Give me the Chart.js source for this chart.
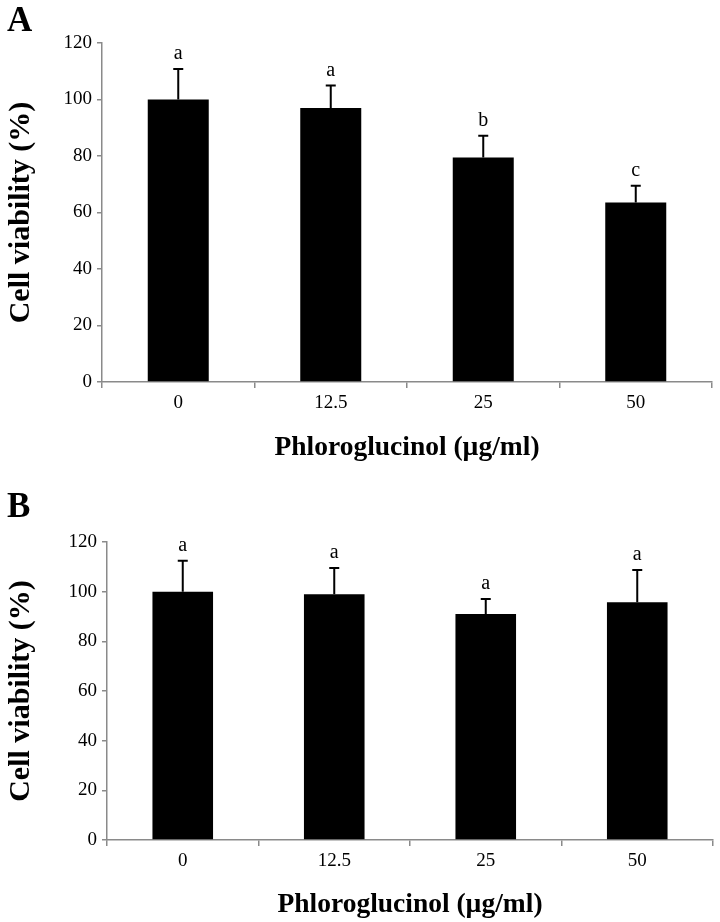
<!DOCTYPE html>
<html>
<head>
<meta charset="utf-8">
<script src="https://cdn.jsdelivr.net/npm/chart.js@4.4.0/dist/chart.umd.min.js"></script>
<style>
  html, body { margin: 0; padding: 0; background: #fff; }
  #wrap { position: relative; width: 720px; height: 922px; }
  .panel { position: absolute; left: 0; }
  .tag {
    position: absolute; left: 7px;
    font: bold 35px "Liberation Serif", "Times New Roman", serif;
    color: #000;
  }
</style>
</head>
<body>
<div id="wrap">
  <canvas id="chartA" class="panel" width="720" height="465" style="top:0"></canvas>
  <canvas id="chartB" class="panel" width="720" height="452" style="top:470px"></canvas>
  <div class="tag" style="top:0px">A</div>
  <div class="tag" style="top:486px">B</div>
</div>
<script>
"use strict";

// Doses (x categories)
const doses = ['0', '12.5', '25', '50'];

// Panel A
const viabilityA = [100, 97, 79.5, 63.5];
const errorA = [10.8, 8, 7.7, 6];
const lettersA = ['a', 'a', 'b', 'c'];

// Panel B
const viabilityB = [100, 99, 91, 95.7];
const errorB = [12.4, 10.5, 6, 13];
const lettersB = ['a', 'a', 'a', 'a'];

const SERIF = '"Liberation Serif", "Times New Roman", serif';
const AXIS_GREY = '#8a8a8a';

Chart.defaults.animation = false;
Chart.defaults.font.family = SERIF;
Chart.defaults.color = '#000';

// Upper error bars + significance letters
const errorBars = {
    id: 'errorBars',
    afterDatasetsDraw(chart, args, opts) {
        const ctx = chart.ctx;
        const y = chart.scales.y;
        const meta = chart.getDatasetMeta(0);
        const values = chart.data.datasets[0].data;
        ctx.save();
        ctx.strokeStyle = '#000';
        ctx.lineWidth = 2;
        ctx.fillStyle = '#000';
        ctx.font = '20px ' + SERIF;
        ctx.textAlign = 'center';
        ctx.textBaseline = 'bottom';
        meta.data.forEach((bar, i) => {
            const top = y.getPixelForValue(values[i] + opts.errors[i]);
            const base = y.getPixelForValue(values[i]);
            ctx.beginPath();
            ctx.moveTo(bar.x, base);
            ctx.lineTo(bar.x, top);
            ctx.moveTo(bar.x - 5, top);
            ctx.lineTo(bar.x + 5, top);
            ctx.stroke();
            ctx.fillText(opts.letters[i], bar.x, top - 5);
        });
        ctx.restore();
    }
};

function makePanel(id, values, errors, letters, sizes) {
    return new Chart(document.getElementById(id), {
        type: 'bar',
        data: {
            labels: doses,
            datasets: [{
                data: values,
                backgroundColor: '#000',
                borderWidth: 0,
                categoryPercentage: 1,
                barPercentage: 0.4
            }]
        },
        options: {
            responsive: false,
            layout: {
                padding: { left: 0, right: sizes.right, top: sizes.top, bottom: 0 }
            },
            plugins: {
                legend: { display: false },
                tooltip: { enabled: false },
                errorBars: { errors: errors, letters: letters }
            },
            scales: {
                x: {
                    afterFit: (scale) => { scale.height = sizes.xHeight; },
                    border: { color: AXIS_GREY, width: 1.5 },
                    grid: {
                        drawOnChartArea: false,
                        tickLength: 6,
                        color: AXIS_GREY,
                        lineWidth: 1.5
                    },
                    ticks: { font: { size: 19 }, padding: 4 },
                    title: {
                        display: true,
                        text: 'Phloroglucinol (µg/ml)',
                        font: { size: 27.5, weight: 'bold' },
                        padding: { top: 0, bottom: 1 }
                    }
                },
                y: {
                    min: 0,
                    max: 120,
                    afterFit: (scale) => { scale.width = sizes.left; },
                    border: { color: AXIS_GREY, width: 1.5 },
                    grid: {
                        drawOnChartArea: false,
                        tickLength: 5,
                        color: AXIS_GREY,
                        lineWidth: 1.5
                    },
                    ticks: { stepSize: 20, font: { size: 19 }, padding: 5 },
                    title: {
                        display: true,
                        text: 'Cell viability (%)',
                        font: { size: 30, weight: 'bold' },
                        padding: { top: 3, bottom: 0 }
                    }
                }
            }
        },
        plugins: [errorBars]
    });
}

makePanel('chartA', viabilityA, errorA, lettersA, { left: 102, right: 8, top: 43, xHeight: 83 });
makePanel('chartB', viabilityB, errorB, lettersB, { left: 107, right: 7, top: 72, xHeight: 82 });
</script>
</body>
</html>
